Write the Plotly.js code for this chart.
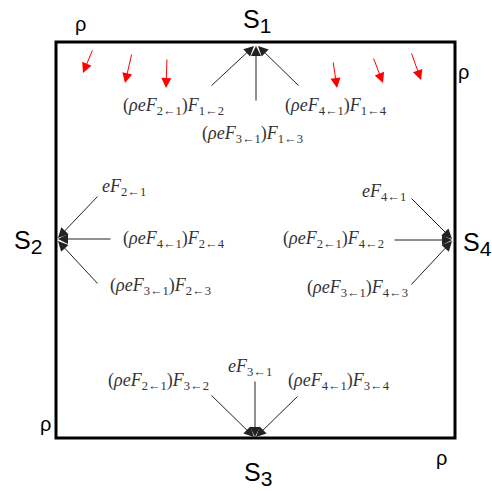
<!DOCTYPE html>
<html><head><meta charset="utf-8">
<script src="https://cdn.plot.ly/plotly-3.0.1.min.js"></script>
<style>html,body{margin:0;padding:0;background:#fff}#p{width:492px;height:491px}</style>
</head><body><div id="p"></div>
<script>
// Surface names
const surfaces = ['S<sub><span style="font-size:21px">1</span></sub>','S<sub><span style="font-size:21px">2</span></sub>',
                  'S<sub><span style="font-size:21px">3</span></sub>','S<sub><span style="font-size:21px">4</span></sub>'];
const surfacePos = [[257,21],[28,242],[258,474],[477,244]];
// rho markers
const rhoPos = [[80,24],[463,72],[45,424],[441,458]];
// flux labels
const fluxLabels = [
  '(<i>ρeF</i><sub>2←1</sub>)<i>F</i><sub>1←2</sub>',
  '(<i>ρeF</i><sub>4←1</sub>)<i>F</i><sub>1←4</sub>',
  '(<i>ρeF</i><sub>3←1</sub>)<i>F</i><sub>1←3</sub>',
  '<i>eF</i><sub>2←1</sub>',
  '(<i>ρeF</i><sub>4←1</sub>)<i>F</i><sub>2←4</sub>',
  '(<i>ρeF</i><sub>3←1</sub>)<i>F</i><sub>2←3</sub>',
  '<i>eF</i><sub>4←1</sub>',
  '(<i>ρeF</i><sub>2←1</sub>)<i>F</i><sub>4←2</sub>',
  '(<i>ρeF</i><sub>3←1</sub>)<i>F</i><sub>4←3</sub>',
  '(<i>ρeF</i><sub>2←1</sub>)<i>F</i><sub>3←2</sub>',
  '<i>eF</i><sub>3←1</sub>',
  '(<i>ρeF</i><sub>4←1</sub>)<i>F</i><sub>3←4</sub>'
];
const fluxPos = [[173,106],[336,106],[252,134],[124,187],[174,239],[160,286],
                 [384,192],[333,239],[357,288],[158,381],[250,367],[339,381]];
// black arrows: [tailX, tailY, tipX, tipY]
const blackArrows = [[210,87,254,46],[256,102,256,46],[300,87,258,46],
                     [99,195,58,238],[112,239,58,239],[99,285,58,241],
                     [410,197,452,239],[393,240,452,240],[410,286,452,241],
                     [210,394,254,437],[255,380,255,437],[299,395,256,437]];
// red arrows (incoming radiation)
const redArrows = [[93,49,83,73],[132,53,125,83],[167,58,166,88],
                   [333,61,337,88],[373,57,383,83],[411,52,421,80]];

const ann = [];
surfaces.forEach((s,i)=>ann.push({x:surfacePos[i][0],y:surfacePos[i][1],text:s,showarrow:false,
  font:{family:'Liberation Sans, Arial',size:25,color:'#000'}}));
rhoPos.forEach(p=>ann.push({x:p[0],y:p[1],text:'ρ',showarrow:false,
  font:{family:'Liberation Sans, Arial',size:20,color:'#000'}}));
fluxLabels.forEach((t,i)=>ann.push({x:fluxPos[i][0],y:fluxPos[i][1],text:t,showarrow:false,
  font:{family:'Liberation Serif, Times New Roman',size:18,color:'#333'}}));
blackArrows.forEach(a=>ann.push({x:a[2],y:a[3],ax:a[0],ay:a[1],axref:'x',ayref:'y',xref:'x',yref:'y',
  text:'',showarrow:true,arrowhead:2,arrowsize:2,arrowwidth:1,arrowcolor:'#222',standoff:0}));
redArrows.forEach(a=>ann.push({x:a[2],y:a[3],ax:a[0],ay:a[1],axref:'x',ayref:'y',xref:'x',yref:'y',
  text:'',showarrow:true,arrowhead:2,arrowsize:2,arrowwidth:1,arrowcolor:'#ff0000',standoff:0}));

const layout = {
  width:492,height:491,margin:{l:0,r:0,t:0,b:0},
  paper_bgcolor:'#fff',plot_bgcolor:'#fff',showlegend:false,
  xaxis:{range:[0,492],visible:false,fixedrange:true},
  yaxis:{range:[491,0],visible:false,fixedrange:true},
  shapes:[{type:'rect',x0:56,x1:455,y0:42,y1:438,line:{color:'#000',width:3}}],
  annotations:ann
};
Plotly.newPlot('p',[{x:[],y:[],type:'scatter'}],layout,{staticPlot:true});
</script></body></html>
